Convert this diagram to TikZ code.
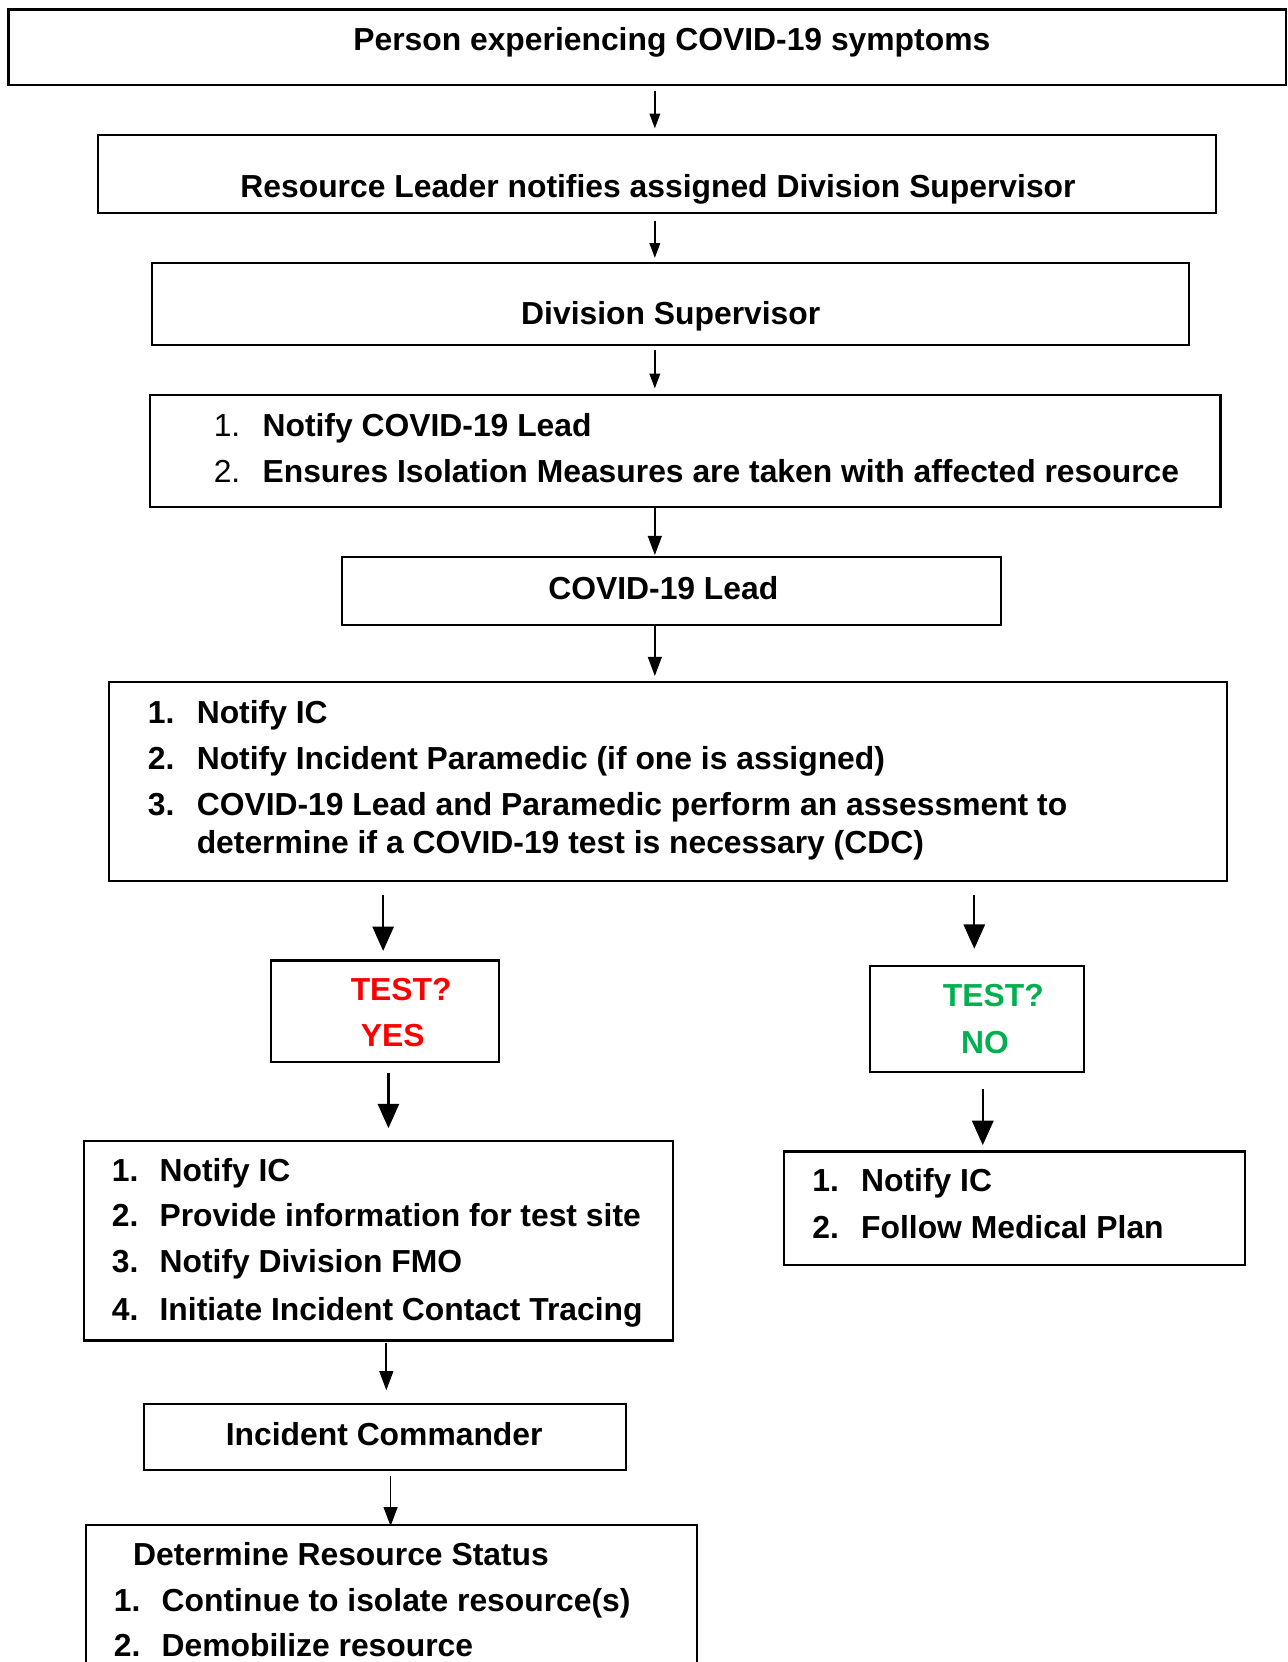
\documentclass[tikz,border=0pt]{standalone}
\usepackage{fontspec}
\setmainfont{Liberation Sans}
\usetikzlibrary{arrows.meta,fit}
\definecolor{yesred}{HTML}{FF0000}
\definecolor{nogreen}{HTML}{00B050}
\begin{document}
\begin{tikzpicture}[x=0.5pt,y=-0.5pt,
  box/.style={draw=black,line width=1pt,inner sep=0pt,rectangle},
  txt/.style={inner sep=0pt,font=\fontsize{15pt}{18pt}\selectfont\bfseries},
  num/.style={inner sep=0pt,font=\fontsize{15pt}{18pt}\selectfont},
  arrS/.style={line width=0.75pt,-{Triangle[width=5pt,length=7pt]}},
  arrM/.style={line width=0.8pt,-{Triangle[width=6.5pt,length=9pt]}},
  arrL/.style={line width=1.1pt,-{Triangle[width=10pt,length=11.5pt]}}]
\useasboundingbox (0,0) rectangle (1213,1566);
% boxes
\node[box,fit={(8,9) (1212,80)}] (b1) {};
\node[box,fit={(92,127) (1146,201)}] (b2) {};
\node[box,fit={(143,248) (1120,325)}] (b3) {};
\node[box,fit={(141,372) (1150,478)}] (b4) {};
\node[box,fit={(322,525) (943,589)}] (b5) {};
\node[box,fit={(103,643) (1156,830)}] (b6) {};
\node[box,fit={(255,905) (470,1001)}] (b7) {};
\node[box,fit={(820,910) (1021,1010)}] (b8) {};
\node[box,fit={(79,1075) (634,1263)}] (b9) {};
\node[box,fit={(739,1085) (1173,1192)}] (b10) {};
\node[box,fit={(136,1323) (590,1385)}] (b11) {};
\node[box,fit={(81,1437) (657,1620)}] (b12) {};
% texts
\node[txt,anchor=base] (t1) at (633,48) {Person experiencing COVID-19 symptoms};
\node[txt,anchor=base] (t2) at (620,186) {Resource Leader notifies assigned Division Supervisor};
\node[txt,anchor=base] (t3) at (632,306) {Division Supervisor};
\node[num,anchor=base west] (t4n1) at (201,411) {1.};
\node[txt,anchor=base west] (t4a) at (247,411) {Notify COVID-19 Lead};
\node[num,anchor=base west] (t4n2) at (201,455) {2.};
\node[txt,anchor=base west] (t4b) at (247,455) {Ensures Isolation Measures are taken with affected resource};
\node[txt,anchor=base] (t5) at (625,565) {COVID-19 Lead};
\node[txt,anchor=base west] (t6n1) at (139,682) {1.};
\node[txt,anchor=base west] (t6a) at (185,682) {Notify IC};
\node[txt,anchor=base west] (t6n2) at (139,725) {2.};
\node[txt,anchor=base west] (t6b) at (185,725) {Notify Incident Paramedic (if one is assigned)};
\node[txt,anchor=base west] (t6n3) at (139,768) {3.};
\node[txt,anchor=base west] (t6c) at (185,768) {COVID-19 Lead and Paramedic perform an assessment to};
\node[txt,anchor=base west] (t6d) at (185,804) {determine if a COVID-19 test is necessary (CDC)};
\node[txt,anchor=base,text=yesred] (t7a) at (378,943) {TEST?};
\node[txt,anchor=base,text=yesred] (t7b) at (370,986) {YES};
\node[txt,anchor=base,text=nogreen] (t8a) at (936,948) {TEST?};
\node[txt,anchor=base,text=nogreen] (t8b) at (928,993) {NO};
\node[txt,anchor=base west] (t9n1) at (105,1113) {1.};
\node[txt,anchor=base west] (t9a) at (150,1113) {Notify IC};
\node[txt,anchor=base west] (t9n2) at (105,1156) {2.};
\node[txt,anchor=base west] (t9b) at (150,1156) {Provide information for test site};
\node[txt,anchor=base west] (t9n3) at (105,1199) {3.};
\node[txt,anchor=base west] (t9c) at (150,1199) {Notify Division FMO};
\node[txt,anchor=base west] (t9n4) at (105,1244) {4.};
\node[txt,anchor=base west] (t9d) at (150,1244) {Initiate Incident Contact Tracing};
\node[txt,anchor=base west] (t10n1) at (765,1123) {1.};
\node[txt,anchor=base west] (t10a) at (811,1123) {Notify IC};
\node[txt,anchor=base west] (t10n2) at (765,1167) {2.};
\node[txt,anchor=base west] (t10b) at (811,1167) {Follow Medical Plan};
\node[txt,anchor=base] (t11) at (362,1362) {Incident Commander};
\node[txt,anchor=base west] (t12h) at (125,1475) {Determine Resource Status};
\node[txt,anchor=base west] (t12n1) at (107,1518) {1.};
\node[txt,anchor=base west] (t12a) at (152,1518) {Continue to isolate resource(s)};
\node[txt,anchor=base west] (t12n2) at (107,1561) {2.};
\node[txt,anchor=base west] (t12b) at (152,1561) {Demobilize resource};
% arrow end points
\coordinate (a1s) at (617,86);   \coordinate (a1e) at (617,121);
\coordinate (a2s) at (617,208);  \coordinate (a2e) at (617,243);
\coordinate (a3s) at (617,330);  \coordinate (a3e) at (617,366);
\coordinate (a4s) at (617,477);  \coordinate (a4e) at (617,523);
\coordinate (a5s) at (617,590);  \coordinate (a5e) at (617,637);
\coordinate (a6s) at (361,843);  \coordinate (a6e) at (361,896);
\coordinate (a7s) at (918,843);  \coordinate (a7e) at (918,894);
\coordinate (a8s) at (366,1011); \coordinate (a8e) at (366,1063);
\coordinate (a9s) at (926,1026); \coordinate (a9e) at (926,1079);
\coordinate (a10s) at (364,1265); \coordinate (a10e) at (364,1310);
\coordinate (a11s) at (368,1391); \coordinate (a11e) at (368,1438);
\draw[arrS] (a1s) -- (a1e);
\draw[arrS] (a2s) -- (a2e);
\draw[arrS] (a3s) -- (a3e);
\draw[arrM] (a4s) -- (a4e);
\draw[arrM] (a5s) -- (a5e);
\draw[arrL] (a6s) -- (a6e);
\draw[arrL] (a7s) -- (a7e);
\draw[arrL] (a8s) -- (a8e);
\draw[arrL] (a9s) -- (a9e);
\draw[arrM] (a10s) -- (a10e);
\draw[arrM] (a11s) -- (a11e);
\end{tikzpicture}
\end{document}
